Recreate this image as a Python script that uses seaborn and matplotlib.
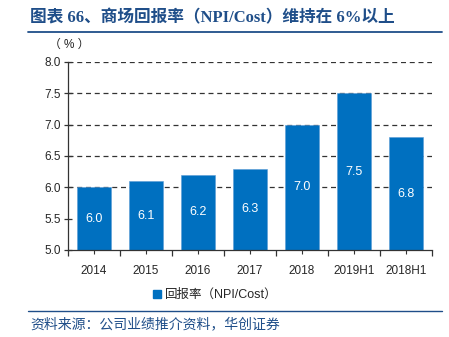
import matplotlib
matplotlib.use("Agg")
import matplotlib.pyplot as plt
from matplotlib.lines import Line2D
from matplotlib.patches import Patch
from matplotlib.ticker import MultipleLocator, FixedLocator
import seaborn as sns
import pandas as pd

periods = ["2014", "2015", "2016", "2017", "2018", "2019H1", "2018H1"]
npi_cost = [6.0, 6.1, 6.2, 6.3, 7.0, 7.5, 6.8]

title = "图表 66、商场回报率（NPI/Cost）维持在 6%以上"
series_name = "回报率（NPI/Cost）"
source = "资料来源：公司业绩推介资料，华创证券"
unit = "（ % ）"

sns.set_style("white")
plt.rcParams["font.family"] = ["Liberation Sans", "Noto Sans CJK SC", "DejaVu Sans"]

BLUE = "#0070C0"
NAVY = "#1F4E89"
SANS_MIX = ["Liberation Sans", "Noto Sans CJK SC", "DejaVu Sans"]
SERIF_MIX = ["Liberation Serif", "Noto Sans CJK SC", "DejaVu Sans"]

df = pd.DataFrame({"period": periods, "value": npi_cost})

fig = plt.figure(figsize=(4.49, 3.37), dpi=100)
ax = fig.add_axes([68 / 449, 1 - 250 / 337, 364 / 449, 188 / 337])

sns.barplot(data=df, x="period", y="value", color=BLUE, width=0.66,
            saturation=1, ax=ax, zorder=2)
for p in ax.patches:
    p.set_edgecolor("#5A9BD5")
    p.set_linewidth(0.4)

ax.set_ylim(5.0, 8.0)
ax.set_xlim(-0.5, len(periods) - 0.5)
ax.yaxis.set_major_locator(MultipleLocator(0.5))
ax.set_yticklabels([f"{v:.1f}" for v in ax.get_yticks()])
ax.set_xlabel("")
ax.set_ylabel("")

# dashed horizontal gridlines
for y in [6.0, 6.5, 7.0, 7.5, 8.0]:
    ax.axhline(y, color="#333333", lw=0.9, ls=(0, (4, 3)), zorder=1)

for s in ["top", "right"]:
    ax.spines[s].set_visible(False)
for s in ["left", "bottom"]:
    ax.spines[s].set_color("#333333")
    ax.spines[s].set_linewidth(0.9)

ax.tick_params(axis="y", direction="inout", length=6, width=0.9,
               color="#333333", labelsize=8.5, pad=2, left=True)
ax.tick_params(axis="x", direction="out", length=3, width=0.8,
               color="#333333", labelsize=8.5, pad=8, bottom=True)
ax.xaxis.set_minor_locator(FixedLocator([i - 0.5 for i in range(len(periods) + 1)]))
ax.tick_params(axis="x", which="minor", direction="out", length=4,
               width=0.9, color="#333333", bottom=True)

# value labels centred inside each bar
for i, v in enumerate(npi_cost):
    ax.text(i, (5.0 + v) / 2, f"{v:.1f}", ha="center", va="center",
            color="white", fontsize=9)

# title and rules
fig.text(30 / 449, 1 - 18 / 337, title, ha="left", va="center",
         fontsize=12, fontweight="bold", color=NAVY, family=SERIF_MIX)
fig.add_artist(Line2D([28 / 449, 442 / 449], [1 - 32 / 337] * 2,
                      color=NAVY, lw=1.3))
fig.text(49 / 449, 1 - 45 / 337, unit, ha="left", va="center",
         fontsize=8.5, color="#222222", family=SANS_MIX)

leg = fig.legend(handles=[Patch(facecolor=BLUE, edgecolor=BLUE)],
                 labels=[series_name], loc="center",
                 bbox_to_anchor=(215 / 449, 1 - 295 / 337), frameon=False,
                 fontsize=9, handlelength=0.65, handleheight=0.65,
                 handletextpad=0.3)
for t in leg.get_texts():
    t.set_family(SANS_MIX)

fig.add_artist(Line2D([28 / 449, 442 / 449], [1 - 311 / 337] * 2,
                      color=NAVY, lw=1.0))
fig.text(30 / 449, 1 - 324 / 337, source, ha="left", va="center",
         fontsize=10, color=NAVY, style="italic",
         family=["Noto Sans CJK SC", "DejaVu Sans"])

fig.savefig("out.png", dpi=100)
